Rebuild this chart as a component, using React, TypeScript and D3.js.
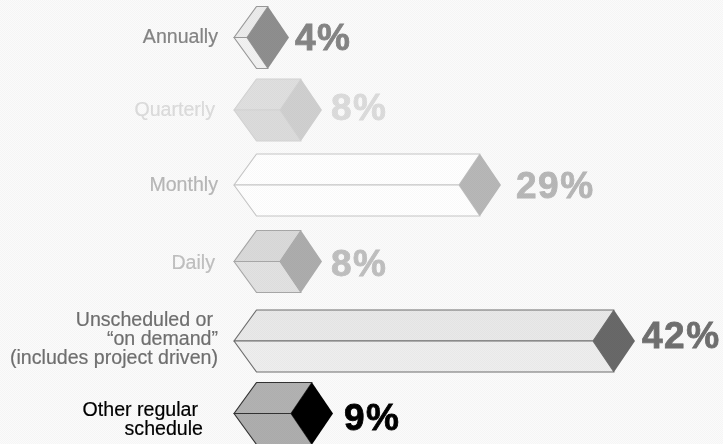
import React from "react";
import * as d3 from "d3";

const categories = ["Annually", "Quarterly", "Monthly", "Daily", "Unscheduled or on demand", "Other regular schedule"];
const labelLines = [
  ["Annually"],
  ["Quarterly"],
  ["Monthly"],
  ["Daily"],
  ["Unscheduled or", "“on demand”", "(includes project driven)"],
  ["Other regular", "schedule"],
];
const values = [4, 8, 29, 8, 42, 9];
const textColors = ["#858585", "#dcdcdc", "#b8b8b8", "#c0c0c0", "#707070", "#000000"];
const topFaces = ["#ececec", "#e0e0e0", "#ffffff", "#dadada", "#e9e9e9", "#b2b2b2"];
const bottomFaces = ["#f2f2f2", "#dcdcdc", "#ffffff", "#e2e2e2", "#eeeeee", "#aeaeae"];
const endFaces = ["#8f8f8f", "#d0d0d0", "#b8b8b8", "#adadad", "#696969", "#000000"];
const strokes = ["#9a9a9a", "#d4d4d4", "#c8c8c8", "#a8a8a8", "#6f6f6f", "#333333"];

const W = 723, H = 444;
// The drawing is pictorial and not strictly linear, so the length scale is piecewise.
const domain = [4, 8, 9, 29, 42];
const x = d3.scaleLinear().domain(domain).range([247, 280, 291, 459, 593]);
const valueX = d3.scaleLinear().domain(domain).range([295, 331, 344, 516, 642]);
const y = d3.scaleLinear().domain([0, 1, 2, 3, 4, 5]).range([37.5, 110, 185, 261.5, 341, 413.5]);
const labelRight = [218, 215, 218, 215, 218, 203];
const labelShift = [-1, 0, 0, 1, -2, 6];
const lineNudge = [[0], [0], [0], [0], [-5, 0, 0], [-5, 0]];
const valueShift = [12.5, 10, 13, 14.5, 7, 16.5];
const tipX = 234, halfH = 31, halfW = 21, backLean = 22.5;
const line = d3.line();

export default function App() {
  return (
    <svg width={W} height={H} viewBox={`0 0 ${W} ${H}`} style={{ position: "absolute", left: 0, top: 0, background: "#fbfbfb" }}>
      <defs>
        <filter id="soft"><feGaussianBlur stdDeviation="0.45" /></filter>
        <pattern id="dither" width="2" height="2" patternUnits="userSpaceOnUse">
          <rect width="1" height="1" fill="#000" />
          <rect x="1" y="1" width="1" height="1" fill="#000" />
        </pattern>
      </defs>
      <g filter="url(#soft)">
        {categories.map((c, i) => {
          const l = x(values[i]);
          const cy = y(i);
          const top = cy - halfH, bot = cy + halfH;
          const m = l + halfW;
          const topFace = line([[tipX, cy], [tipX + backLean, top], [m, top], [l, cy]])! + "Z";
          const botFace = line([[tipX, cy], [tipX + backLean, bot], [m, bot], [l, cy]])! + "Z";
          const end = line([[l, cy], [m, top], [l + 2 * halfW, cy], [m, bot]])! + "Z";
          const lh = 19;
          const n = labelLines[i].length;
          return (
            <g key={c}>
              <path d={topFace} fill={topFaces[i]} stroke={strokes[i]} strokeWidth={1.2} strokeLinejoin="round" />
              <path d={botFace} fill={bottomFaces[i]} stroke={strokes[i]} strokeWidth={1.2} strokeLinejoin="round" />
              <path d={end} fill={endFaces[i]} />
              <text fontFamily="'Liberation Sans', sans-serif" fontSize={19.6} fill={textColors[i]} stroke={textColors[i]} strokeWidth={0.2} textAnchor="end">
                {labelLines[i].map((t, k) => (
                  <tspan key={k} x={labelRight[i] + lineNudge[i][k]} y={cy + 6 + labelShift[i] + (k - (n - 1) / 2) * lh}>{t}</tspan>
                ))}
              </text>
              <text x={valueX(values[i])} y={cy + valueShift[i]} fontFamily="'Liberation Sans', sans-serif" fontWeight={700} fontSize={37} letterSpacing={1.5}
                stroke={textColors[i]} strokeWidth={0.8} fill={textColors[i]}>
                {values[i]}%
              </text>
            </g>
          );
        })}
      </g>
      <rect width={W} height={H} fill="url(#dither)" opacity={0.025} />
    </svg>
  );
}
